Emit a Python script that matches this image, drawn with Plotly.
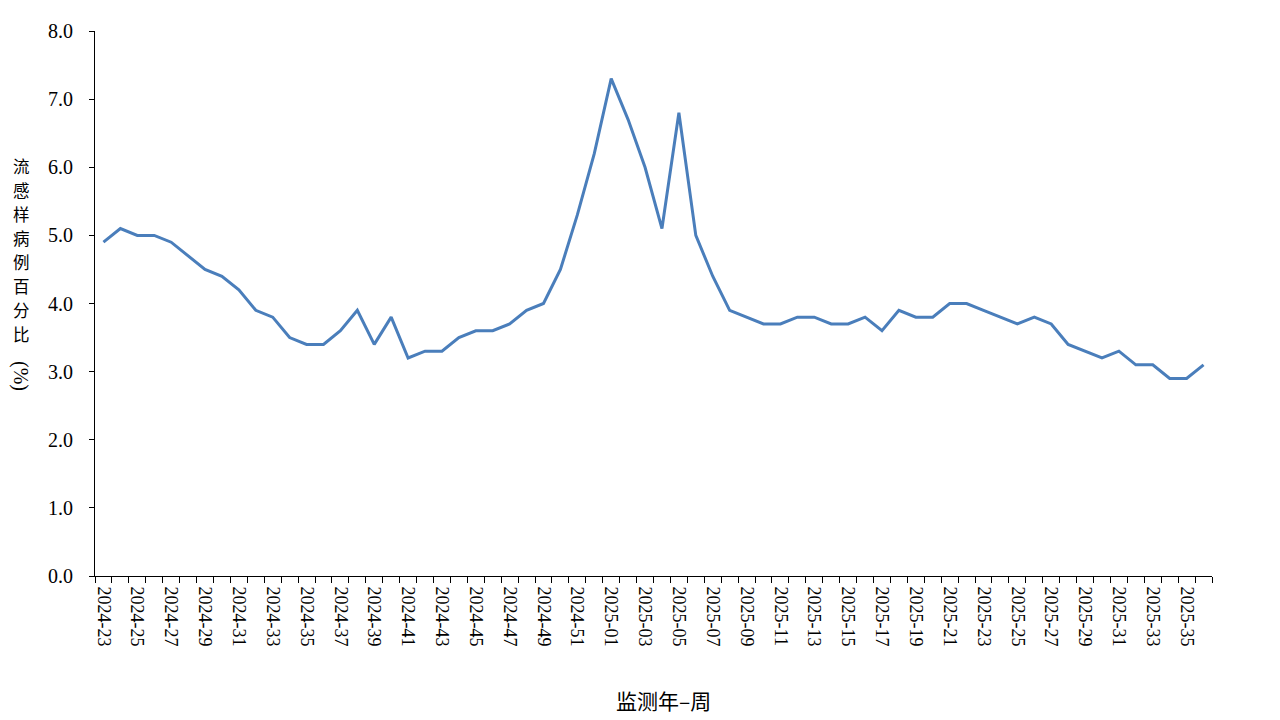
import plotly.graph_objects as go

weeks_2024 = [f"2024-{w:02d}" for w in range(23, 53)]
weeks_2025 = [f"2025-{w:02d}" for w in range(1, 37)]
weeks = weeks_2024 + weeks_2025

values = [
    4.9, 5.1, 5.0, 5.0, 4.9, 4.7, 4.5, 4.4, 4.2, 3.9,
    3.8, 3.5, 3.4, 3.4, 3.6, 3.9, 3.4, 3.8, 3.2, 3.3,
    3.3, 3.5, 3.6, 3.6, 3.7, 3.9, 4.0, 4.5, 5.3, 6.2,
    7.3, 6.7, 6.0, 5.1, 6.8, 5.0, 4.4, 3.9, 3.8, 3.7,
    3.7, 3.8, 3.8, 3.7, 3.7, 3.8, 3.6, 3.9, 3.8, 3.8,
    4.0, 4.0, 3.9, 3.8, 3.7, 3.8, 3.7, 3.4, 3.3, 3.2,
    3.3, 3.1, 3.1, 2.9, 2.9, 3.1,
]

y_ticks = [0, 1, 2, 3, 4, 5, 6, 7, 8]
y_title_chars = "流感样病例百分比"
y_title_unit = "(%)"
x_title = "监测年–周"

idx = list(range(len(weeks)))
label_idx = idx[::2]
label_text = [weeks[i] for i in label_idx]

serif = "Liberation Serif"
cjk = "Noto Sans CJK SC"

L, R, T, B = 95, 1212, 31, 576
PW, PH = R - L, B - T


def px_x(x):
    return (x - L) / PW


def px_y(y):
    return (B - y) / PH


fig = go.Figure()
fig.add_trace(go.Scatter(
    x=idx, y=values, mode="lines",
    line=dict(color="#4a7ebb", width=3),
    hoverinfo="skip", showlegend=False,
))

annotations = []
for k, ch in enumerate(y_title_chars):
    annotations.append(dict(
        text=ch, xref="paper", yref="paper",
        x=px_x(21), y=px_y(166 + 24 * k), xanchor="center", yanchor="middle",
        showarrow=False, font=dict(family=cjk, size=16.5, color="black")))
annotations.append(dict(
    text=y_title_unit, xref="paper", yref="paper", textangle=90,
    x=px_x(21), y=px_y(376), xanchor="center", yanchor="middle",
    showarrow=False, font=dict(family=serif, size=20, color="black")))
annotations.append(dict(
    text=x_title, xref="paper", yref="paper",
    x=px_x(663), y=px_y(700), xanchor="center", yanchor="middle",
    showarrow=False, font=dict(family=cjk, size=21, color="black")))

fig.update_layout(
    width=1280, height=720,
    margin=dict(l=L, r=1280 - R, t=T, b=720 - B, autoexpand=False),
    paper_bgcolor="white", plot_bgcolor="white",
    font=dict(family=serif, color="black", size=17),
    xaxis=dict(
        range=[-0.5, len(weeks) - 0.5], automargin=False,
        tickmode="array", tickvals=label_idx, ticktext=label_text,
        tickangle=90, ticks="outside", ticklen=6, tickcolor="rgba(0,0,0,0)",
        tickfont=dict(family=serif, size=18, color="black"),
        showline=True, linecolor="black", linewidth=1,
        showgrid=False, zeroline=False,
        minor=dict(tick0=-0.5, dtick=1, ticks="outside", ticklen=6,
                   tickcolor="black", tickwidth=1, showgrid=False),
    ),
    yaxis=dict(
        range=[0, 8], automargin=False, tickmode="array", tickvals=y_ticks,
        ticktext=[f"{v:.1f}" for v in y_ticks],
        ticks="outside", ticklen=5, tickcolor="black",
        ticklabelstandoff=12,
        tickfont=dict(family=serif, size=20, color="black"),
        showline=True, linecolor="black", linewidth=1,
        showgrid=False, zeroline=False,
    ),
    annotations=annotations,
)

fig.write_html(
    "out.html",
    config={"displayModeBar": False},
    post_script="document.body.style.margin='0';document.body.style.overflow='hidden';",
)
